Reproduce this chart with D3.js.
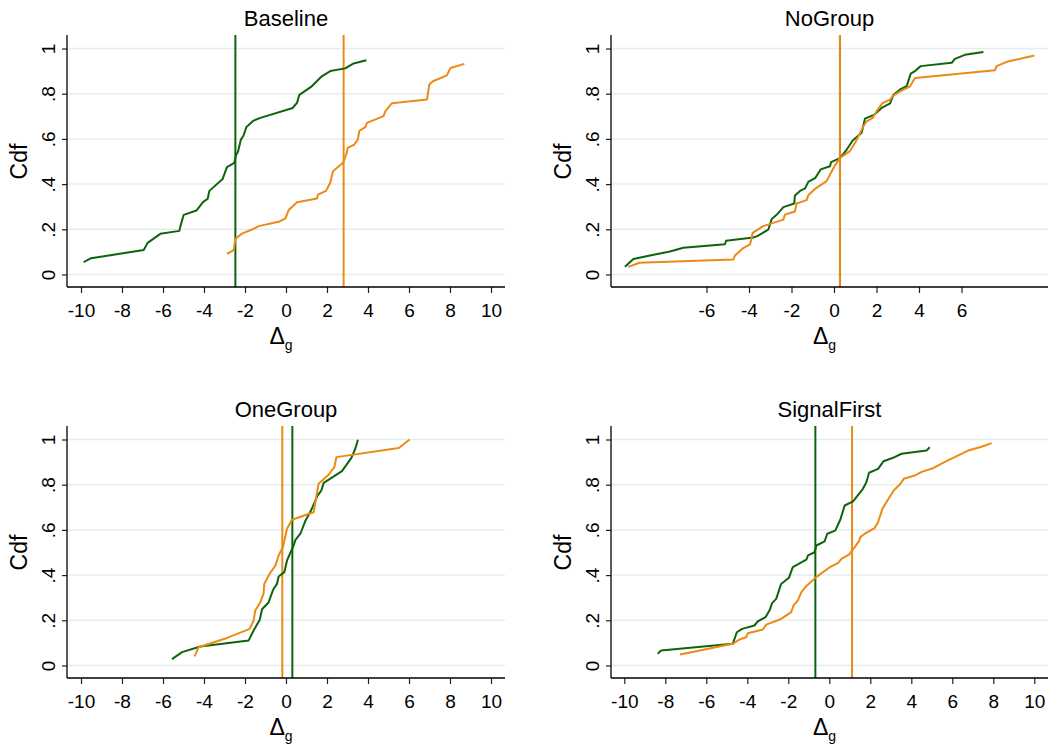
<!DOCTYPE html>
<html>
<head>
<meta charset="utf-8">
<script src="https://cdn.jsdelivr.net/npm/d3@7"></script>
<style>
  body { margin: 0; background: #fff; }
  text { font-family: "Liberation Sans", Arial, Helvetica, sans-serif; fill: #000; }
</style>
</head>
<body>
<script>
// panel titles
const titles = ["Baseline", "NoGroup", "OneGroup", "SignalFirst"];

// x tick values
const ticksFull = [-10, -8, -6, -4, -2, 0, 2, 4, 6, 8, 10];
const ticksNoGroup = [-6, -4, -2, 0, 2, 4, 6];
const yTicks = [0, 0.2, 0.4, 0.6, 0.8, 1];

// vertical reference lines (medians) per panel
const medGreen = [-2.47, 0.28, 0.31, -0.68];
const medOrange = [2.81, 0.28, -0.18, 1.11];

// cdf curves, [delta, cdf]
const baselineGreen = [[-9.87,0.055],[-9.51,0.072],[-6.94,0.108],[-6.75,0.140],[-6.13,0.180],[-5.20,0.193],[-5.15,0.214],[-4.99,0.264],[-4.37,0.283],[-4.05,0.320],[-3.82,0.335],[-3.74,0.370],[-3.09,0.423],[-2.88,0.475],[-2.52,0.494],[-2.44,0.527],[-2.34,0.544],[-2.20,0.597],[-2.07,0.615],[-1.93,0.653],[-1.58,0.681],[-1.25,0.693],[0.33,0.737],[0.54,0.760],[0.65,0.795],[1.22,0.830],[1.76,0.878],[2.16,0.900],[2.89,0.912],[3.30,0.934],[3.92,0.948]];
const baselineOrange = [[-2.88,0.091],[-2.55,0.108],[-2.47,0.158],[-2.15,0.181],[-1.66,0.199],[-1.33,0.214],[-0.36,0.233],[-0.03,0.248],[0.13,0.285],[0.54,0.320],[1.51,0.336],[1.56,0.353],[1.95,0.370],[2.16,0.406],[2.29,0.457],[2.78,0.494],[2.94,0.531],[3.01,0.560],[3.33,0.575],[3.50,0.597],[3.58,0.636],[3.87,0.652],[3.95,0.671],[4.76,0.701],[4.85,0.723],[5.17,0.758],[6.88,0.774],[6.99,0.841],[7.17,0.855],[7.85,0.881],[8.02,0.914],[8.70,0.932]];

const noGroupGreen = [[-9.84,0.034],[-9.44,0.069],[-8.66,0.084],[-7.72,0.102],[-7.09,0.118],[-5.13,0.134],[-5.08,0.149],[-3.80,0.164],[-3.61,0.170],[-3.09,0.199],[-2.93,0.246],[-2.70,0.264],[-2.38,0.298],[-1.87,0.314],[-1.84,0.350],[-1.60,0.370],[-1.36,0.381],[-1.21,0.410],[-0.89,0.426],[-0.63,0.465],[-0.19,0.479],[-0.14,0.497],[0.28,0.515],[0.60,0.553],[0.88,0.593],[1.30,0.627],[1.46,0.690],[1.88,0.706],[2.24,0.737],[2.64,0.757],[2.79,0.794],[3.11,0.819],[3.42,0.833],[3.61,0.889],[3.81,0.900],[4.08,0.922],[5.54,0.937],[5.69,0.954],[6.16,0.972],[7.03,0.985]];
const noGroupOrange = [[-9.68,0.034],[-9.16,0.052],[-4.74,0.066],[-4.66,0.084],[-4.27,0.117],[-3.95,0.133],[-3.83,0.184],[-3.33,0.214],[-2.38,0.243],[-2.31,0.265],[-1.84,0.279],[-1.76,0.314],[-1.29,0.329],[-1.21,0.351],[-0.89,0.379],[-0.35,0.413],[0.00,0.476],[0.28,0.516],[0.75,0.546],[0.99,0.583],[1.19,0.619],[1.38,0.656],[1.54,0.678],[1.82,0.693],[2.01,0.723],[2.27,0.757],[2.64,0.774],[2.76,0.789],[3.11,0.810],[3.58,0.833],[3.81,0.870],[7.58,0.904],[7.65,0.922],[8.13,0.941],[9.43,0.969]];

const oneGroupGreen = [[-5.56,0.028],[-5.07,0.059],[-4.18,0.084],[-1.82,0.111],[-1.58,0.155],[-1.28,0.202],[-1.17,0.249],[-0.85,0.279],[-0.63,0.335],[-0.44,0.361],[-0.36,0.394],[-0.08,0.413],[0.05,0.465],[0.37,0.531],[0.46,0.556],[0.70,0.583],[0.94,0.639],[1.22,0.686],[1.54,0.752],[1.72,0.774],[1.84,0.808],[2.73,0.860],[3.19,0.919],[3.38,0.959],[3.51,0.999]];
const oneGroupOrange = [[-4.46,0.040],[-4.26,0.081],[-2.88,0.122],[-1.77,0.162],[-1.58,0.199],[-1.50,0.243],[-1.25,0.280],[-1.09,0.320],[-1.06,0.361],[-0.80,0.406],[-0.52,0.442],[-0.36,0.487],[-0.15,0.524],[0.05,0.605],[0.29,0.645],[1.02,0.668],[1.35,0.678],[1.43,0.723],[1.59,0.804],[2.08,0.844],[2.36,0.878],[2.46,0.922],[5.50,0.962],[6.03,1.000]];

const signalFirstGreen = [[-8.37,0.052],[-8.21,0.066],[-4.71,0.096],[-4.51,0.147],[-4.25,0.162],[-3.65,0.177],[-3.49,0.195],[-3.11,0.214],[-2.92,0.243],[-2.79,0.276],[-2.59,0.295],[-2.35,0.361],[-1.97,0.388],[-1.78,0.435],[-1.12,0.468],[-1.04,0.487],[-0.72,0.501],[-0.63,0.531],[-0.23,0.549],[-0.10,0.583],[0.29,0.597],[0.54,0.646],[0.75,0.708],[1.16,0.726],[1.64,0.782],[1.81,0.811],[1.94,0.853],[2.38,0.870],[2.65,0.904],[3.11,0.919],[3.52,0.937],[4.74,0.951],[4.90,0.966]];
const signalFirstOrange = [[-7.28,0.049],[-4.71,0.096],[-4.38,0.115],[-4.06,0.125],[-3.97,0.143],[-3.24,0.159],[-3.08,0.181],[-2.35,0.206],[-1.86,0.236],[-1.73,0.268],[-1.53,0.288],[-1.37,0.324],[-1.17,0.347],[-0.64,0.391],[0.02,0.435],[0.42,0.453],[0.59,0.472],[0.96,0.491],[1.24,0.524],[1.45,0.550],[1.51,0.568],[1.73,0.583],[2.21,0.608],[2.38,0.634],[2.43,0.649],[2.59,0.693],[2.92,0.742],[3.14,0.774],[3.44,0.801],[3.63,0.826],[4.17,0.841],[4.54,0.858],[5.06,0.873],[5.71,0.904],[6.12,0.922],[6.77,0.951],[7.35,0.966],[7.92,0.984]];

const greenSeries = [baselineGreen, noGroupGreen, oneGroupGreen, signalFirstGreen];
const orangeSeries = [baselineOrange, noGroupOrange, oneGroupOrange, signalFirstOrange];
const xTickSets = [ticksFull, ticksNoGroup, ticksFull, ticksFull];

const green = "#0e640e";
const orange = "#eb8a14";
const gridColor = "#e6edf0";

const svg = d3.select("body").append("svg")
    .attr("width", 1048)
    .attr("height", 745);

svg.append("rect").attr("width", 1048).attr("height", 745).attr("fill", "#fff");

// layout for the 2x2 grid
const cols = [
    { left: 67, right: 505, xRange: [81, 491] },
    { left: 611, right: 1048, xRange: [624.3, 1034.3] }
];
const rowTop = [35, 426];
const rowOffset = [0, 391];

titles.forEach(function(title, i) {
    const col = cols[i % 2];
    const off = rowOffset[Math.floor(i / 2)];
    const top = rowTop[Math.floor(i / 2)];
    const axisY = 287 + off;

    let xScale;
    if (i === 1) {
        // NoGroup has a narrower tick range, 0 at 834
        xScale = d3.scaleLinear().domain([-6, 6]).range([706.5, 961.5]);
    } else {
        xScale = d3.scaleLinear().domain([-10, 10]).range(col.xRange);
    }
    const yScale = d3.scaleLinear().domain([0, 1]).range([274.5 + off, 48.5 + off]);

    const g = svg.append("g");

    // gridlines
    g.selectAll(".grid")
        .data(yTicks)
        .enter().append("line")
        .attr("x1", col.left + 1)
        .attr("x2", col.right)
        .attr("y1", d => yScale(d))
        .attr("y2", d => yScale(d))
        .attr("stroke", gridColor)
        .attr("stroke-width", 1.5);

    // vertical median lines
    g.append("line")
        .attr("x1", xScale(medGreen[i])).attr("x2", xScale(medGreen[i]))
        .attr("y1", top).attr("y2", axisY)
        .attr("stroke", green).attr("stroke-width", 2);
    g.append("line")
        .attr("x1", xScale(medOrange[i])).attr("x2", xScale(medOrange[i]))
        .attr("y1", top).attr("y2", axisY)
        .attr("stroke", orange).attr("stroke-width", 2);

    const line = d3.line()
        .x(d => xScale(d[0]))
        .y(d => yScale(d[1]));

    g.append("path")
        .datum(greenSeries[i])
        .attr("d", line)
        .attr("fill", "none")
        .attr("stroke", green)
        .attr("stroke-width", 2)
        .attr("stroke-linejoin", "round");

    g.append("path")
        .datum(orangeSeries[i])
        .attr("d", line)
        .attr("fill", "none")
        .attr("stroke", orange)
        .attr("stroke-width", 2)
        .attr("stroke-linejoin", "round");

    // x axis (plain hyphen minus like the original)
    const xAxis = g.append("g")
        .attr("transform", `translate(0, ${axisY})`)
        .call(d3.axisBottom(xScale).tickValues(xTickSets[i]).tickSize(6).tickPadding(11).tickFormat(d => String(d)));
    xAxis.select(".domain").remove();
    xAxis.attr("font-family", null);
    xAxis.selectAll("text").style("font-size", "19px");
    xAxis.selectAll("line").attr("stroke", "#222").attr("stroke-width", 1.2);
    xAxis.append("line")
        .attr("x1", col.left).attr("x2", col.right)
        .attr("stroke", "#000").attr("stroke-width", 1.3);

    // y axis
    const yAxis = g.append("g")
        .attr("transform", `translate(${col.left}, 0)`)
        .call(d3.axisLeft(yScale).tickValues(yTicks).tickSize(5)
            .tickFormat(d => d === 0 ? "0" : d === 1 ? "1" : d3.format(".1f")(d).replace("0.", ".")));
    yAxis.select(".domain").remove();
    yAxis.attr("font-family", null);
    yAxis.selectAll("line").attr("stroke", "#222").attr("stroke-width", 1.2);
    yAxis.selectAll("text")
        .attr("x", null)
        .attr("dy", null)
        .attr("y", -12)
        .attr("transform", "rotate(-90)")
        .attr("text-anchor", "middle")
        .style("font-size", "19px");
    yAxis.append("line")
        .attr("y1", top).attr("y2", axisY)
        .attr("stroke", "#000").attr("stroke-width", 1.3);

    // y label
    const yMid = (yScale(0) + yScale(1)) / 2;
    g.append("text")
        .attr("transform", `translate(${col.left - 40}, ${yMid}) rotate(-90)`)
        .attr("text-anchor", "middle")
        .style("font-size", "23px")
        .text("Cdf");

    // x label: Delta with subscript g
    const xMid = (col.left + col.right) / 2;
    const xl = g.append("text")
        .attr("x", xMid - 5)
        .attr("y", 344 + off)
        .attr("text-anchor", "middle")
        .style("font-size", "23px");
    xl.append("tspan").text("Δ");
    xl.append("tspan").attr("dy", 6).style("font-size", "14px").text("g");

    // title
    g.append("text")
        .attr("x", xMid)
        .attr("y", 26 + off)
        .attr("text-anchor", "middle")
        .style("font-size", "22px")
        .text(title);
});
</script>
</body>
</html>
